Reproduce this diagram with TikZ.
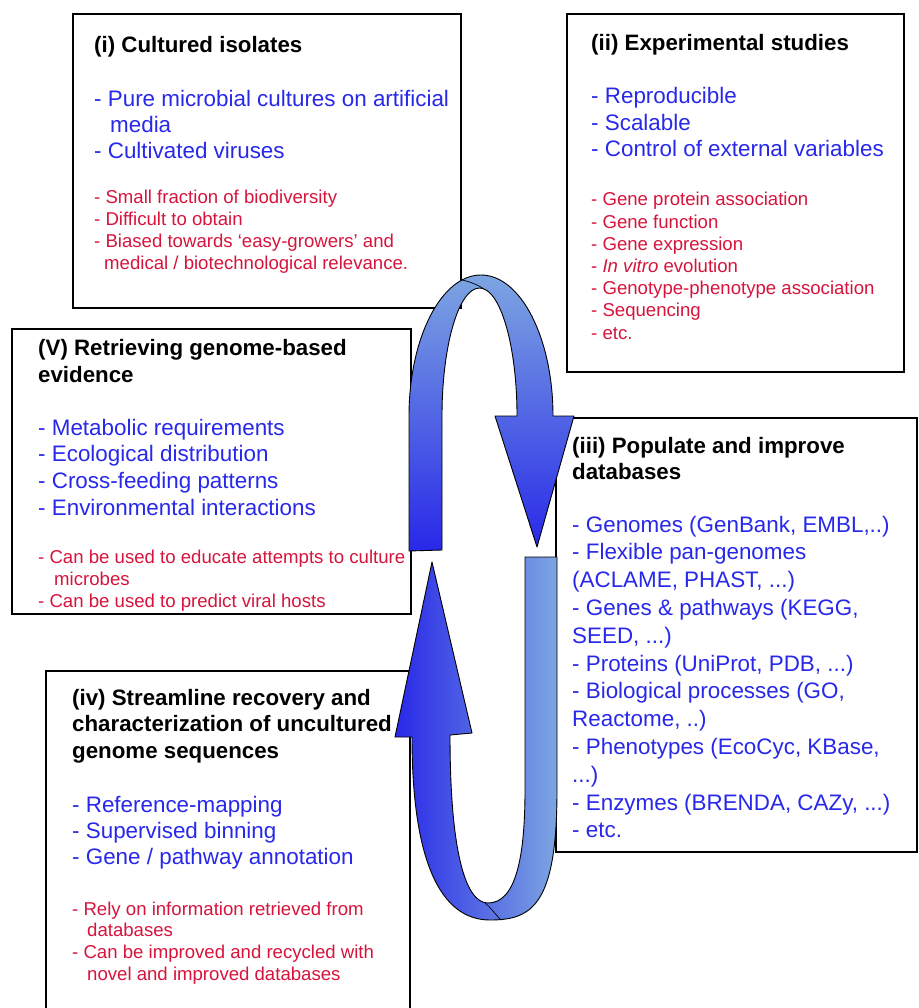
\documentclass[tikz,border=0pt]{standalone}
\usepackage{fontspec}
\setmainfont{Liberation Sans}
\definecolor{txtblue}{RGB}{40,40,235}
\definecolor{txtred}{RGB}{215,20,60}
\definecolor{ribbonlight}{RGB}{125,165,225}
\definecolor{ribbondark}{RGB}{40,40,232}
\newcommand\blk[1]{\vtop{\halign{##\hfil\cr#1\crcr}}}
\begin{document}
\begin{tikzpicture}[x=1pt,y=-1pt,
  panel/.style={draw=black,line width=1.4pt,fill=white},
  ttl/.style={anchor=base west,inner sep=0,font=\fontsize{22.3}{#1}\selectfont\bfseries},
  bl/.style={anchor=base west,inner sep=0,text=txtblue,font=\fontsize{22.4}{#1}\selectfont},
  rd/.style={anchor=base west,inner sep=0,text=txtred,font=\fontsize{18.6}{#1}\selectfont},
  ribbon/.style={draw=black,line width=0.9pt,line join=round},
  fold/.style={draw=black,line width=0.7pt}]
\useasboundingbox (0,0) rectangle (918,1008);
\clip (0,0) rectangle (918,1008);
% panels
\path[panel] (73,14) rectangle (461,308);
\path[panel] (567,14) rectangle (904,372);
\path[panel] (12,329) rectangle (411,614);
\path[panel] (556,418) rectangle (917,852);
\path[panel] (46,671) rectangle (410,1030);
% upper ribbon arrow
\path[ribbon, top color=ribbonlight, bottom color=ribbondark]
  (409,551) -- (409,416) arc[start angle=180,end angle=360,x radius=72,y radius=141]
  -- (574,416) -- (537,547) -- (495,416) -- (517,416)
  arc[start angle=360,end angle=180,x radius=37.5,y radius=128]
  -- (442,550) -- cycle;
\draw[fold] (462,280) .. controls (471,282) and (478,285) .. (484,289);
% lower ribbon arrow
\path[ribbon, left color=ribbondark, right color=ribbonlight]
  (525,557) -- (557,557) -- (557,790) .. controls (557,905) and (532,920) .. (490,920)
  .. controls (440,920) and (412,860) .. (412,737)
  -- (395,737) -- (432,562) -- (472,733) -- (450,735)
  .. controls (450,850) and (465,903) .. (488,903)
  .. controls (515,903) and (525,860) .. (525,790) -- cycle;
\draw[fold] (485,903) .. controls (491,908) and (496,915) .. (501,920);
% (i)
\node[ttl=26.7] (t1) at (94,53) {\blk{(i) Cultured isolates}};
\node[bl=26] (b1) at (94,107) {\blk{- Pure microbial cultures on artificial\cr\hskip16pt media\cr- Cultivated viruses}};
\node[rd=22] (r1) at (94,204) {\blk{- Small fraction of biodiversity\cr- Difficult to obtain\cr- Biased towards ‘easy-growers’ and\cr\hskip10pt medical / biotechnological relevance.}};
% (ii)
\node[ttl=26.7] (t2) at (591,51) {\blk{(ii) Experimental studies}};
\node[bl=26.5] (b2) at (591,104) {\blk{- Reproducible\cr- Scalable\cr- Control of external variables}};
\node[rd=22.2] (r2) at (591,206) {\blk{- Gene protein association\cr- Gene function\cr- Gene expression\cr- \textit{In vitro} evolution\cr- Genotype-phenotype association\cr- Sequencing\cr- etc.}};
% (V)
\node[ttl=27] (t5) at (38,355) {\blk{(V) Retrieving genome-based\cr evidence}};
\node[bl=26.7] (b5) at (38,435) {\blk{- Metabolic requirements\cr- Ecological distribution\cr- Cross-feeding patterns\cr- Environmental interactions}};
\node[rd=22] (r5) at (38,563) {\blk{- Can be used to educate attempts to culture\cr\hskip16pt microbes\cr- Can be used to predict viral hosts}};
% (iii)
\node[ttl=26.5] (t3) at (572,453) {\blk{(iii) Populate and improve\cr databases}};
\node[bl=27.8] (b3) at (572,532) {\blk{- Genomes (GenBank, EMBL,..)\cr- Flexible pan-genomes\cr(ACLAME, PHAST, ...)\cr- Genes \& pathways (KEGG,\cr SEED, ...)\cr- Proteins (UniProt, PDB, ...)\cr- Biological processes (GO,\cr Reactome, ..)\cr- Phenotypes (EcoCyc, KBase,\cr ...)\cr- Enzymes (BRENDA, CAZy, ...)\cr- etc.}};
% (iv)
\node[ttl=26.5] (t4) at (72,705) {\blk{(iv) Streamline recovery and\cr characterization of uncultured\cr genome sequences}};
\node[bl=26] (b4) at (72,812) {\blk{- Reference-mapping\cr- Supervised binning\cr- Gene / pathway annotation}};
\node[rd=21.7] (r4) at (72,915) {\blk{- Rely on information retrieved from\cr\hskip15pt databases\cr- Can be improved and recycled with\cr\hskip15pt novel and improved databases}};
\end{tikzpicture}
\end{document}
